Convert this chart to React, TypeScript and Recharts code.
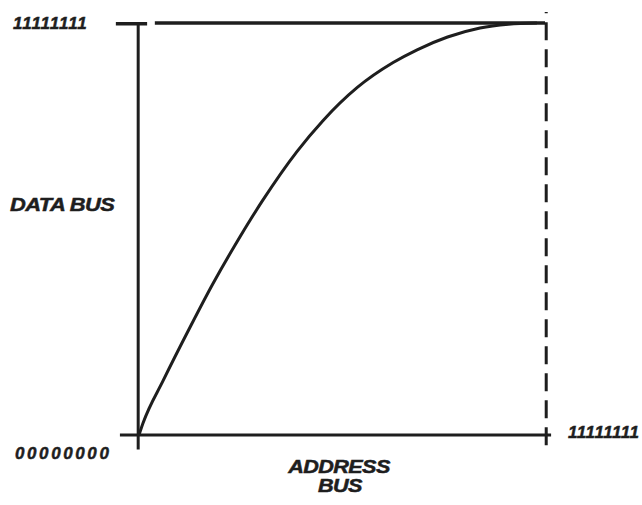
import { LineChart, Line, XAxis, YAxis, ReferenceLine } from 'recharts';

// address bus position (0..100 = 00000000..11111111)
const address = [0, 1, 6, 12.6, 18.2, 23.6, 30.5, 38.9, 45.3, 53.7, 62.6, 68.5, 76, 84, 91, 98];
// data bus value at that address
const dataBus = [0, 2.9, 13.3, 26.2, 36.7, 46.0, 57.0, 68.8, 76.3, 84.3, 90.4, 93.5, 96.6, 98.8, 99.7, 100];

const lowLabel = '00000000';
const highLabel = '11111111';
const yTitle = 'DATA BUS';
const xTitle = ['ADDRESS', 'BUS'];

const chartData = address.map((a, i) => ({ address: a, value: dataBus[i] }));

const ink = '#1e1e1e';

const labelStyle = (left: number, cy: number, size: number, extra: any = {}) => ({
  position: 'absolute' as const,
  left,
  top: cy - size / 2,
  fontFamily: '"Liberation Sans", Arial, sans-serif',
  fontWeight: 900,
  fontStyle: 'italic',
  fontSize: size,
  lineHeight: 1,
  color: ink,
  whiteSpace: 'nowrap' as const,
  WebkitTextStroke: '0.5px ' + ink,
  ...extra,
});

export default function App() {
  return (
    <div style={{ position: 'absolute', left: 0, top: 0, width: 642, height: 505, background: '#fff' }}>
      <LineChart
        width={642}
        height={505}
        data={chartData}
        margin={{ top: 23, right: 97, left: 139, bottom: 70 }}
      >
        <XAxis dataKey="address" type="number" domain={[0, 100]} hide />
        <YAxis type="number" domain={[0, 100]} hide />
        {/* x axis */}
        <ReferenceLine
          segment={[{ x: -4.7, y: 0 }, { x: 101.5, y: 0 }]}
          ifOverflow="visible"
          stroke={ink}
          strokeWidth={3}
        />
        {/* y axis */}
        <ReferenceLine
          segment={[{ x: -0.2, y: -3.5 }, { x: -0.2, y: 99.8 }]}
          ifOverflow="visible"
          stroke={ink}
          strokeWidth={3}
        />
        {/* top tick */}
        <ReferenceLine
          segment={[{ x: -5.7, y: 99.8 }, { x: 2, y: 99.8 }]}
          ifOverflow="visible"
          stroke={ink}
          strokeWidth={3.5}
        />
        {/* top line */}
        <ReferenceLine
          segment={[{ x: 3.9, y: 100 }, { x: 100, y: 100 }]}
          ifOverflow="visible"
          stroke={ink}
          strokeWidth={3.5}
        />
        {/* dashed limit */}
        <ReferenceLine
          segment={[{ x: 100.3, y: -2.5 }, { x: 100.3, y: 102.7 }]}
          ifOverflow="visible"
          stroke={ink}
          strokeWidth={3}
          strokeDasharray="18 9"
        />
        <Line
          type="monotone"
          dataKey="value"
          stroke={ink}
          strokeWidth={3}
          dot={false}
          activeDot={false}
          isAnimationActive={false}
        />
      </LineChart>
      <div style={labelStyle(13, 23, 17, { letterSpacing: 1 })}>{highLabel}</div>
      <div style={labelStyle(10, 204, 19, { letterSpacing: -0.5, transform: 'scaleX(1.15)', transformOrigin: 'left center' })}>{yTitle}</div>
      <div style={labelStyle(15, 453, 17, { letterSpacing: 2.6 })}>{lowLabel}</div>
      <div style={labelStyle(568, 432, 17, { letterSpacing: 0.6 })}>{highLabel}</div>
      <div style={{ ...labelStyle(239, 467, 18, { letterSpacing: -0.5, transform: 'scaleX(1.2)' }), width: 200, textAlign: 'center' }}>{xTitle[0]}</div>
      <div style={{ ...labelStyle(240, 486, 18, { letterSpacing: -0.5, transform: 'scaleX(1.2)' }), width: 200, textAlign: 'center' }}>{xTitle[1]}</div>
    </div>
  );
}
